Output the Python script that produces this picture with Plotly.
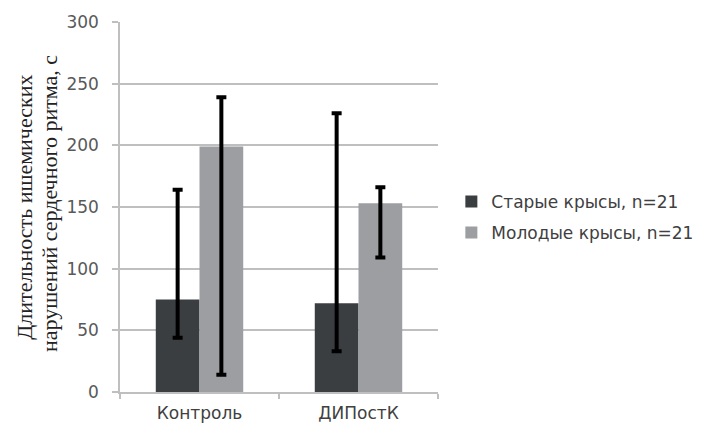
import plotly.graph_objects as go

categories = ["Контроль", "ДИПостК"]
series_names = ["Старые крысы, n=21", "Молодые крысы, n=21"]
old_values = [75, 72]
old_upper = [164, 226]
old_lower = [44, 33]
young_values = [199, 153]
young_upper = [239, 166]
young_lower = [14, 109]
y_ticks = [0, 50, 100, 150, 200, 250, 300]
title_lines = ["Длительность ишемических", "нарушений сердечного ритма, с"]

colors = ["#3b3e41", "#9c9ea1"]

fig = go.Figure()
for i, (name, vals, up, lo, col) in enumerate([
    (series_names[0], old_values, old_upper, old_lower, colors[0]),
    (series_names[1], young_values, young_upper, young_lower, colors[1]),
]):
    fig.add_trace(go.Bar(
        x=categories, y=vals, name=name, legendgroup="g%d" % i,
        marker=dict(color=col, line=dict(width=0)),
        error_y=dict(type="data", symmetric=False,
                     array=[u - v for u, v in zip(up, vals)],
                     arrayminus=[v - l for v, l in zip(vals, lo)],
                     color="black", thickness=4, width=5),
    ))

tick_font = dict(family="DejaVu Sans", size=17, color="#595959")
fig.update_layout(
    width=701, height=425,
    margin=dict(l=112, r=271, t=14, b=41, autoexpand=False),
    paper_bgcolor="white", plot_bgcolor="white",
    barmode="group", bargap=0.45, bargroupgap=0,
    showlegend=True,
    legend=dict(x=1.042, y=0.472, xanchor="left", yanchor="middle",
                font=dict(family="DejaVu Sans", size=17, color="#404040"),
                tracegroupgap=6, bgcolor="rgba(0,0,0,0)"),
    xaxis=dict(tickfont=dict(family="DejaVu Sans", size=17, color="#404040"),
               showline=True, linecolor="#bfbfbf", linewidth=1.5,
               ticks="outside", tickson="boundaries", ticklen=5,
               tickcolor="#bfbfbf", tickwidth=1.5, showgrid=False, automargin=False,
               ticklabelstandoff=5),
    yaxis=dict(range=[0, 300], tickvals=y_ticks, tickfont=tick_font,
               showgrid=True, gridcolor="#bfbfbf", gridwidth=1.5,
               showline=True, linecolor="#bfbfbf", linewidth=1.5,
               ticks="outside", ticklen=6, tickcolor="#bfbfbf", tickwidth=1.5,
               zeroline=False, ticklabelstandoff=10, automargin=False),
    annotations=[
        dict(text=title_lines[0], xref="paper", yref="paper",
             x=(16 - 112) / 317, y=0.5, xanchor="center", yanchor="middle",
             textangle=-90, showarrow=False,
             font=dict(family="Liberation Serif", size=22, color="#222222")),
        dict(text=title_lines[1], xref="paper", yref="paper",
             x=(42 - 112) / 317, y=0.51, xanchor="center", yanchor="middle",
             textangle=-90, showarrow=False,
             font=dict(family="Liberation Serif", size=22, color="#222222")),
    ],
)
fig.write_html("out.html")
